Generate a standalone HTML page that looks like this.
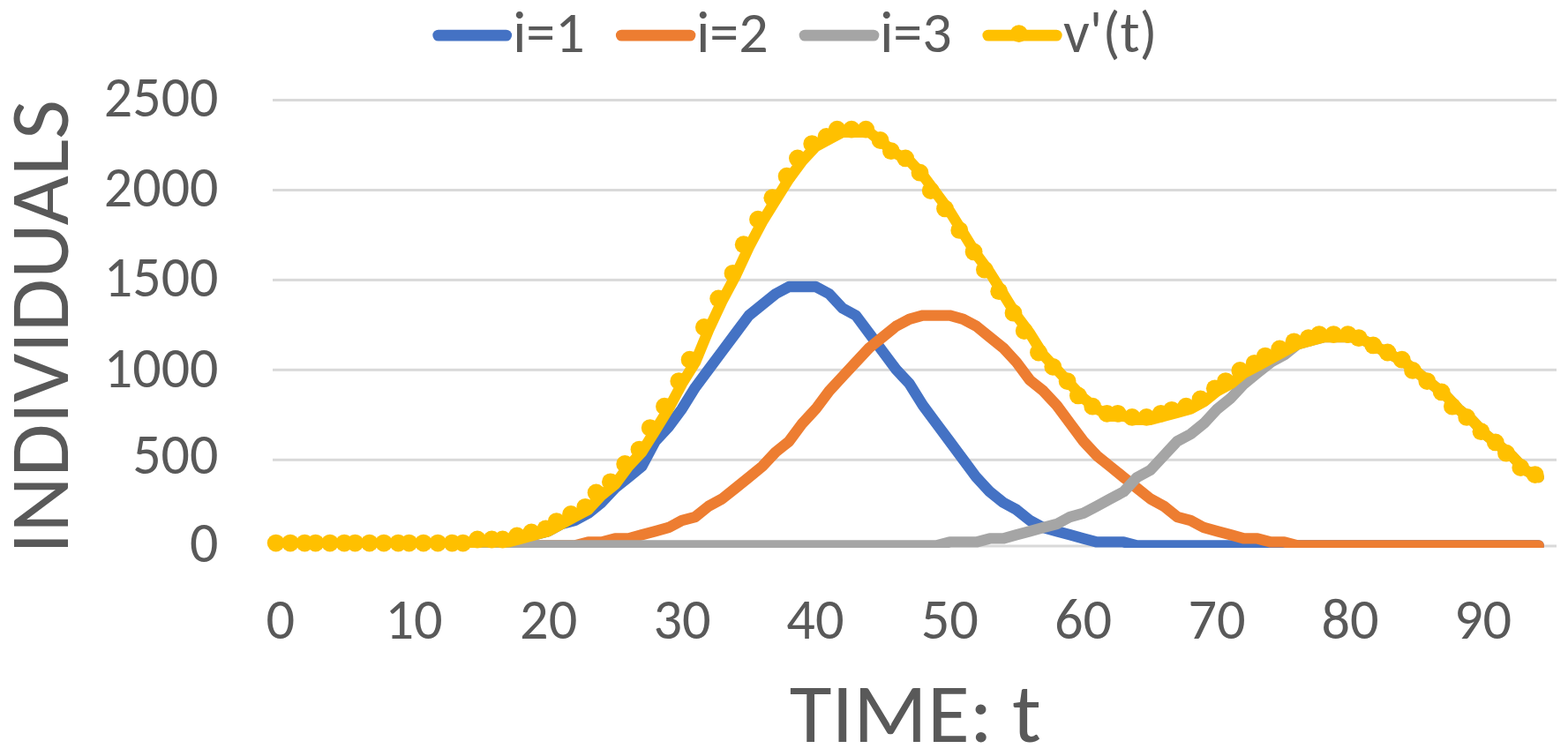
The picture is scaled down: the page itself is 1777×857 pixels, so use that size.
<!DOCTYPE html>
<html><head><meta charset="utf-8"><title>Chart</title>
<style>html,body{margin:0;padding:0;background:#fff;}body{width:1777px;height:857px;position:relative;overflow:hidden;}</style>
</head><body>
<svg width="1777" height="857" viewBox="0 0 1777 857" style="position:absolute;left:0;top:0">
<defs><clipPath id="pc"><rect x="300" y="0" width="1477" height="621"/></clipPath></defs>
<rect x="309" y="112.0" width="1455" height="3" fill="#d9d9d9"/>
<rect x="309" y="214.0" width="1455" height="3" fill="#d9d9d9"/>
<rect x="309" y="315.9" width="1455" height="3" fill="#d9d9d9"/>
<rect x="309" y="417.8" width="1455" height="3" fill="#d9d9d9"/>
<rect x="309" y="519.8" width="1455" height="3" fill="#d9d9d9"/>
<rect x="309" y="617.5" width="1455" height="3" fill="#d9d9d9"/>
<g clip-path="url(#pc)" fill="none" stroke-linejoin="round" stroke-linecap="round">
<polyline points="317.7,618.5 332.9,618.5 348.0,618.5 363.2,618.5 378.4,618.5 393.5,618.5 408.7,618.5 423.9,618.5 439.1,618.5 454.2,618.5 469.4,618.5 484.6,618.5 499.7,618.5 514.9,618.5 530.1,618.5 545.2,614.4 560.4,614.4 575.6,614.4 590.8,610.4 605.9,606.3 621.1,602.2 636.3,594.1 651.4,590.0 666.6,581.8 681.8,569.6 697.0,553.3 712.1,541.1 727.3,528.8 742.5,500.3 757.6,484.0 772.8,463.6 788.0,439.1 803.1,418.8 818.3,398.4 833.5,378.0 848.7,357.6 863.8,345.4 879.0,333.1 894.2,325.0 909.3,325.0 924.5,325.0 939.7,333.1 954.8,349.4 970.0,357.6 985.2,378.0 1000.3,398.4 1015.5,418.8 1030.7,435.1 1045.9,459.5 1061.0,479.9 1076.2,500.3 1091.4,520.7 1106.5,541.1 1121.7,557.4 1136.9,569.6 1152.0,577.8 1167.2,590.0 1182.4,598.1 1197.6,602.2 1212.7,606.3 1227.9,610.4 1243.1,614.4 1258.2,614.4 1273.4,614.4 1288.6,618.5 1303.8,618.5 1318.9,618.5 1334.1,618.5 1349.3,618.5 1364.4,618.5 1379.6,618.5 1394.8,618.5 1409.9,618.5 1425.1,618.5 1440.3,618.5 1455.5,618.5 1470.6,618.5 1485.8,618.5 1501.0,618.5 1516.1,618.5 1531.3,618.5 1546.5,618.5 1561.6,618.5 1576.8,618.5 1592.0,618.5 1607.2,618.5 1622.3,618.5 1637.5,618.5 1652.7,618.5 1667.8,618.5 1683.0,618.5 1698.2,618.5 1713.3,618.5 1728.5,618.5 1743.7,618.5" stroke="#4472c4" stroke-width="12.4"/>
<polyline points="317.7,618.5 332.9,618.5 348.0,618.5 363.2,618.5 378.4,618.5 393.5,618.5 408.7,618.5 423.9,618.5 439.1,618.5 454.2,618.5 469.4,618.5 484.6,618.5 499.7,618.5 514.9,618.5 530.1,618.5 545.2,618.5 560.4,618.5 575.6,618.5 590.8,618.5 605.9,618.5 621.1,618.5 636.3,618.5 651.4,618.5 666.6,614.4 681.8,614.4 697.0,610.4 712.1,610.4 727.3,606.3 742.5,602.2 757.6,598.1 772.8,590.0 788.0,585.9 803.1,573.7 818.3,565.5 833.5,553.3 848.7,541.1 863.8,528.8 879.0,512.5 894.2,500.3 909.3,479.9 924.5,463.6 939.7,443.2 954.8,426.9 970.0,410.6 985.2,394.3 1000.3,382.1 1015.5,369.8 1030.7,361.7 1045.9,357.6 1061.0,357.6 1076.2,357.6 1091.4,361.7 1106.5,369.8 1121.7,382.1 1136.9,394.3 1152.0,410.6 1167.2,431.0 1182.4,443.2 1197.6,459.5 1212.7,479.9 1227.9,500.3 1243.1,516.6 1258.2,528.8 1273.4,541.1 1288.6,553.3 1303.8,565.5 1318.9,573.7 1334.1,585.9 1349.3,590.0 1364.4,598.1 1379.6,602.2 1394.8,606.3 1409.9,610.4 1425.1,610.4 1440.3,614.4 1455.5,614.4 1470.6,618.5 1485.8,618.5 1501.0,618.5 1516.1,618.5 1531.3,618.5 1546.5,618.5 1561.6,618.5 1576.8,618.5 1592.0,618.5 1607.2,618.5 1622.3,618.5 1637.5,618.5 1652.7,618.5 1667.8,618.5 1683.0,618.5 1698.2,618.5 1713.3,618.5 1728.5,618.5 1743.7,618.5" stroke="#ed7d31" stroke-width="12.4"/>
<polyline points="317.7,618.5 332.9,618.5 348.0,618.5 363.2,618.5 378.4,618.5 393.5,618.5 408.7,618.5 423.9,618.5 439.1,618.5 454.2,618.5 469.4,618.5 484.6,618.5 499.7,618.5 514.9,618.5 530.1,618.5 545.2,618.5 560.4,618.5 575.6,618.5 590.8,618.5 605.9,618.5 621.1,618.5 636.3,618.5 651.4,618.5 666.6,618.5 681.8,618.5 697.0,618.5 712.1,618.5 727.3,618.5 742.5,618.5 757.6,618.5 772.8,618.5 788.0,618.5 803.1,618.5 818.3,618.5 833.5,618.5 848.7,618.5 863.8,618.5 879.0,618.5 894.2,618.5 909.3,618.5 924.5,618.5 939.7,618.5 954.8,618.5 970.0,618.5 985.2,618.5 1000.3,618.5 1015.5,618.5 1030.7,618.5 1045.9,618.5 1061.0,618.5 1076.2,614.4 1091.4,614.4 1106.5,614.4 1121.7,610.4 1136.9,610.4 1152.0,606.3 1167.2,602.2 1182.4,598.1 1197.6,594.1 1212.7,585.9 1227.9,581.8 1243.1,573.7 1258.2,565.5 1273.4,557.4 1288.6,541.1 1303.8,532.9 1318.9,516.6 1334.1,500.3 1349.3,492.1 1364.4,479.9 1379.6,463.6 1394.8,451.4 1409.9,435.1 1425.1,422.8 1440.3,410.6 1455.5,402.4 1470.6,390.2 1485.8,386.1 1501.0,382.1 1516.1,382.1 1531.3,382.1 1546.5,386.1 1561.6,394.3 1576.8,402.4 1592.0,410.6 1607.2,422.8 1622.3,435.1 1637.5,447.3 1652.7,463.6 1667.8,475.8 1683.0,492.1 1698.2,504.4 1713.3,516.6 1728.5,532.9 1743.7,541.1" stroke="#a5a5a5" stroke-width="12.4"/>
<polyline points="317.7,618.5 332.9,618.5 348.0,618.5 363.2,618.5 378.4,618.5 393.5,618.5 408.7,618.5 423.9,618.5 439.1,618.5 454.2,618.5 469.4,618.5 484.6,618.5 499.7,618.5 514.9,618.5 530.1,618.5 545.2,614.4 560.4,614.4 575.6,614.4 590.8,610.4 605.9,606.3 621.1,602.2 636.3,594.1 651.4,585.9 666.6,577.8 681.8,561.4 697.0,549.2 712.1,528.8 727.3,512.5 742.5,488.1 757.6,463.6 772.8,435.1 788.0,410.6 803.1,373.9 818.3,341.3 833.5,312.8 848.7,280.1 863.8,251.6 879.0,227.1 894.2,202.7 909.3,182.3 924.5,166.0 939.7,157.8 954.8,149.7 970.0,149.7 985.2,149.7 1000.3,161.9 1015.5,174.1 1030.7,182.3 1045.9,198.6 1061.0,219.0 1076.2,239.4 1091.4,263.8 1106.5,288.3 1121.7,308.7 1136.9,333.1 1152.0,357.6 1167.2,378.0 1182.4,402.4 1197.6,418.8 1212.7,435.1 1227.9,451.4 1243.1,463.6 1258.2,471.8 1273.4,471.8 1288.6,475.8 1303.8,475.8 1318.9,471.8 1334.1,467.7 1349.3,463.6 1364.4,455.4 1379.6,443.2 1394.8,435.1 1409.9,422.8 1425.1,414.7 1440.3,406.5 1455.5,398.4 1470.6,390.2 1485.8,386.1 1501.0,382.1 1516.1,382.1 1531.3,382.1 1546.5,386.1 1561.6,394.3 1576.8,402.4 1592.0,410.6 1607.2,422.8 1622.3,435.1 1637.5,447.3 1652.7,463.6 1667.8,475.8 1683.0,492.1 1698.2,504.4 1713.3,516.6 1728.5,532.9 1743.7,541.1" stroke="#ffc000" stroke-width="12.4"/>
</g>
<g fill="#ffc000"><circle cx="312.7" cy="615.6" r="9.9"/><circle cx="329.0" cy="615.6" r="9.9"/><circle cx="345.3" cy="615.6" r="9.9"/><circle cx="357.6" cy="615.6" r="9.9"/><circle cx="373.9" cy="615.6" r="9.9"/><circle cx="390.2" cy="615.6" r="9.9"/><circle cx="402.4" cy="615.6" r="9.9"/><circle cx="418.7" cy="615.6" r="9.9"/><circle cx="435.0" cy="615.6" r="9.9"/><circle cx="451.3" cy="615.6" r="9.9"/><circle cx="463.6" cy="615.6" r="9.9"/><circle cx="479.9" cy="615.6" r="9.9"/><circle cx="496.2" cy="615.6" r="9.9"/><circle cx="512.5" cy="615.6" r="9.9"/><circle cx="524.7" cy="615.6" r="9.9"/><circle cx="541.0" cy="611.5" r="9.9"/><circle cx="557.3" cy="611.5" r="9.9"/><circle cx="569.6" cy="611.5" r="9.9"/><circle cx="585.9" cy="607.4" r="9.9"/><circle cx="602.2" cy="603.4" r="9.9"/><circle cx="618.5" cy="599.3" r="9.9"/><circle cx="630.7" cy="591.1" r="9.9"/><circle cx="647.0" cy="583.0" r="9.9"/><circle cx="663.3" cy="574.8" r="9.9"/><circle cx="675.6" cy="558.5" r="9.9"/><circle cx="691.9" cy="546.3" r="9.9"/><circle cx="708.2" cy="525.9" r="9.9"/><circle cx="724.5" cy="509.6" r="9.9"/><circle cx="736.7" cy="485.1" r="9.9"/><circle cx="753.0" cy="460.7" r="9.9"/><circle cx="769.3" cy="432.1" r="9.9"/><circle cx="781.6" cy="407.7" r="9.9"/><circle cx="797.9" cy="371.0" r="9.9"/><circle cx="814.2" cy="338.4" r="9.9"/><circle cx="830.5" cy="309.8" r="9.9"/><circle cx="842.7" cy="277.2" r="9.9"/><circle cx="859.0" cy="248.7" r="9.9"/><circle cx="875.3" cy="224.2" r="9.9"/><circle cx="891.6" cy="199.7" r="9.9"/><circle cx="903.9" cy="179.4" r="9.9"/><circle cx="920.2" cy="163.1" r="9.9"/><circle cx="936.5" cy="154.9" r="9.9"/><circle cx="948.7" cy="146.7" r="9.9"/><circle cx="965.0" cy="146.7" r="9.9"/><circle cx="981.3" cy="146.7" r="9.9"/><circle cx="997.6" cy="159.0" r="9.9"/><circle cx="1009.9" cy="171.2" r="9.9"/><circle cx="1026.2" cy="179.4" r="9.9"/><circle cx="1042.5" cy="195.7" r="9.9"/><circle cx="1054.7" cy="216.1" r="9.9"/><circle cx="1071.0" cy="236.4" r="9.9"/><circle cx="1087.3" cy="260.9" r="9.9"/><circle cx="1103.6" cy="285.4" r="9.9"/><circle cx="1115.9" cy="305.7" r="9.9"/><circle cx="1132.2" cy="330.2" r="9.9"/><circle cx="1148.5" cy="354.7" r="9.9"/><circle cx="1160.7" cy="375.1" r="9.9"/><circle cx="1177.0" cy="399.5" r="9.9"/><circle cx="1193.3" cy="415.8" r="9.9"/><circle cx="1209.6" cy="432.1" r="9.9"/><circle cx="1221.9" cy="448.4" r="9.9"/><circle cx="1238.2" cy="460.7" r="9.9"/><circle cx="1254.5" cy="468.8" r="9.9"/><circle cx="1266.7" cy="468.8" r="9.9"/><circle cx="1283.0" cy="472.9" r="9.9"/><circle cx="1299.3" cy="472.9" r="9.9"/><circle cx="1315.6" cy="468.8" r="9.9"/><circle cx="1327.9" cy="464.8" r="9.9"/><circle cx="1344.2" cy="460.7" r="9.9"/><circle cx="1360.5" cy="452.5" r="9.9"/><circle cx="1376.8" cy="440.3" r="9.9"/><circle cx="1389.0" cy="432.1" r="9.9"/><circle cx="1405.3" cy="419.9" r="9.9"/><circle cx="1421.7" cy="411.8" r="9.9"/><circle cx="1433.9" cy="403.6" r="9.9"/><circle cx="1450.2" cy="395.4" r="9.9"/><circle cx="1466.5" cy="387.3" r="9.9"/><circle cx="1482.8" cy="383.2" r="9.9"/><circle cx="1495.0" cy="379.1" r="9.9"/><circle cx="1511.3" cy="379.1" r="9.9"/><circle cx="1527.7" cy="379.1" r="9.9"/><circle cx="1539.9" cy="383.2" r="9.9"/><circle cx="1556.2" cy="391.4" r="9.9"/><circle cx="1572.5" cy="399.5" r="9.9"/><circle cx="1588.8" cy="407.7" r="9.9"/><circle cx="1601.0" cy="419.9" r="9.9"/><circle cx="1617.3" cy="432.1" r="9.9"/><circle cx="1633.7" cy="444.4" r="9.9"/><circle cx="1645.9" cy="460.7" r="9.9"/><circle cx="1662.2" cy="472.9" r="9.9"/><circle cx="1678.5" cy="489.2" r="9.9"/><circle cx="1694.8" cy="501.4" r="9.9"/><circle cx="1707.0" cy="513.7" r="9.9"/><circle cx="1723.3" cy="530.0" r="9.9"/><circle cx="1739.7" cy="538.1" r="9.9"/></g>
<g font-family="Carlito, 'Liberation Sans', sans-serif" font-size="66" fill="#595959" text-anchor="end">
<text transform="translate(247.5,132.3) scale(0.97,1)" textLength="133.77" lengthAdjust="spacingAndGlyphs">2500</text>
<text transform="translate(247.5,234) scale(0.97,1)" textLength="133.77" lengthAdjust="spacingAndGlyphs">2000</text>
<text transform="translate(247.5,335.6) scale(0.97,1)" textLength="133.77" lengthAdjust="spacingAndGlyphs">1500</text>
<text transform="translate(247.5,438.8) scale(0.97,1)" textLength="133.77" lengthAdjust="spacingAndGlyphs">1000</text>
<text transform="translate(247.5,536.5) scale(0.97,1)" textLength="100.34" lengthAdjust="spacingAndGlyphs">500</text>
<text transform="translate(247.5,637.4) scale(0.97,1)" textLength="33.45" lengthAdjust="spacingAndGlyphs">0</text>
</g>
<g font-family="Carlito, 'Liberation Sans', sans-serif" font-size="66" fill="#595959" text-anchor="middle">
<text transform="translate(317.7,723.5) scale(0.975,1)" textLength="33.45" lengthAdjust="spacingAndGlyphs">0</text>
<text transform="translate(469,723.5) scale(0.975,1)" textLength="66.91" lengthAdjust="spacingAndGlyphs">10</text>
<text transform="translate(621.7,723.5) scale(0.975,1)" textLength="66.91" lengthAdjust="spacingAndGlyphs">20</text>
<text transform="translate(773,723.5) scale(0.975,1)" textLength="66.91" lengthAdjust="spacingAndGlyphs">30</text>
<text transform="translate(923.9,723.5) scale(0.975,1)" textLength="66.91" lengthAdjust="spacingAndGlyphs">40</text>
<text transform="translate(1076.3,723.5) scale(0.975,1)" textLength="66.91" lengthAdjust="spacingAndGlyphs">50</text>
<text transform="translate(1227.5,723.5) scale(0.975,1)" textLength="66.91" lengthAdjust="spacingAndGlyphs">60</text>
<text transform="translate(1379,723.5) scale(0.975,1)" textLength="66.91" lengthAdjust="spacingAndGlyphs">70</text>
<text transform="translate(1530,723.5) scale(0.975,1)" textLength="66.91" lengthAdjust="spacingAndGlyphs">80</text>
<text transform="translate(1680.5,723.5) scale(0.975,1)" textLength="66.91" lengthAdjust="spacingAndGlyphs">90</text>
</g>
<text transform="translate(1037.3,841) scale(1,0.97)" font-family="Carlito, 'Liberation Sans', sans-serif" font-size="98" fill="#595959" text-anchor="middle" textLength="285.26" lengthAdjust="spacingAndGlyphs">TIME: t</text>
<text transform="translate(77,370.6) rotate(-90) scale(1,0.97)" font-family="Carlito, 'Liberation Sans', sans-serif" font-size="97.6" fill="#595959" text-anchor="middle" textLength="514.96" lengthAdjust="spacingAndGlyphs">INDIVIDUALS</text>
<line x1="496.7" y1="40.1" x2="573.7" y2="40.1" stroke="#4472c4" stroke-width="12.8" stroke-linecap="round"/>
<text x="581.2" y="58.9" font-family="Carlito, 'Liberation Sans', sans-serif" font-size="66" fill="#595959" textLength="81.47" lengthAdjust="spacingAndGlyphs">i=1</text>
<line x1="704.3" y1="40.1" x2="782.0" y2="40.1" stroke="#ed7d31" stroke-width="12.8" stroke-linecap="round"/>
<text x="789.2" y="58.9" font-family="Carlito, 'Liberation Sans', sans-serif" font-size="66" fill="#595959" textLength="81.47" lengthAdjust="spacingAndGlyphs">i=2</text>
<line x1="912.0" y1="40.1" x2="990.0" y2="40.1" stroke="#a5a5a5" stroke-width="12.8" stroke-linecap="round"/>
<text x="997.2" y="58.9" font-family="Carlito, 'Liberation Sans', sans-serif" font-size="66" fill="#595959" textLength="81.47" lengthAdjust="spacingAndGlyphs">i=3</text>
<line x1="1119.8000000000002" y1="40.1" x2="1197.3" y2="40.1" stroke="#ffc000" stroke-width="12.8" stroke-linecap="round"/>
<text x="1205" y="58.9" font-family="Carlito, 'Liberation Sans', sans-serif" font-size="66" fill="#595959" textLength="106.52" lengthAdjust="spacingAndGlyphs">v'(t)</text>
<circle cx="1154.75" cy="38.1" r="9.9" fill="#ffc000"/>
</svg>
</body></html>
